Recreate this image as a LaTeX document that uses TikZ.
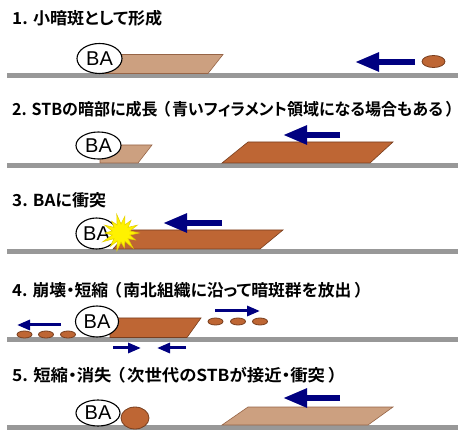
\documentclass[tikz,border=0pt]{standalone}
\usepackage{fontspec}
\usepackage{graphicx}
\setmainfont{Liberation Sans}
\newfontfamily\cjk{Noto Sans CJK JP}[BoldFont={Noto Sans CJK JP Bold},RawFeature=+palt]
\usetikzlibrary{shapes.geometric,arrows.meta}
\definecolor{lbrown}{RGB}{204,160,128}
\definecolor{lbrownedge}{RGB}{150,100,70}
\definecolor{dbrown}{RGB}{190,102,52}
\definecolor{dbrownedge}{RGB}{120,62,30}
\definecolor{navy}{RGB}{0,0,128}
\definecolor{groundgray}{RGB}{152,152,152}
\definecolor{staredge}{RGB}{230,210,0}
\newcommand{\lp}{\hspace{.28em}（\hspace{.12em}}
\newcommand{\rp}{\hspace{.2em}）}
\tikzset{
  ttl/.style={anchor=west, inner sep=0pt, font=\cjk\bfseries\fontsize{16.5}{16.5}\selectfont},
  ba/.style={ellipse, draw=black, line width=1.1pt, fill=white, minimum width=45pt, minimum height=30pt, inner sep=0pt, font=\fontsize{20}{20}\selectfont},
  ground/.style={draw=groundgray, line width=5pt},
  lpar/.style={fill=lbrown, draw=lbrownedge, line width=0.6pt},
  dpar/.style={fill=dbrown, draw=dbrownedge, line width=0.6pt},
  bigarrow/.style={draw=navy, line width=5.5pt, -{Triangle[length=24pt,width=18pt]}},
  smallarrow/.style={draw=navy, line width=3pt, -{Triangle[length=13pt,width=10pt]}},
  blob/.style={ellipse, fill=dbrown, draw=dbrownedge, line width=0.8pt, inner sep=0pt},
  starst/.style={fill=yellow, draw=staredge, line width=0.6pt},
}
\begin{document}
\begin{tikzpicture}[x=1pt,y=-1pt]
\useasboundingbox (0,0) rectangle (458,430);

% ---------- Panel 1 ----------
\node[ttl] (t1) at (12,18.5) {\resizebox{150pt}{\height}{1. 小暗斑として形成}};
\coordinate (g1a) at (7,76); \coordinate (g1b) at (458,76);
\draw[ground] (g1a) -- (g1b);
\draw[lpar] (100,73.5) -- (208,73.5) -- (223,54.5) -- (100,54.5) -- cycle;
\node[ba] (ba1) at (99.5,58.5) {BA};
\coordinate (a1s) at (415,62); \coordinate (a1e) at (355,62);
\draw[bigarrow] (a1s) -- (a1e);
\node[blob, minimum width=23pt, minimum height=12pt] (b1) at (433.5,61.5) {};

% ---------- Panel 2 ----------
\node[ttl] (t2) at (12,109) {\resizebox{442pt}{\height}{2. STBの暗部に成長\lp 青いフィラメント領域になる場合もある\rp}};
\coordinate (g2a) at (7,165.5); \coordinate (g2b) at (458,165.5);
\draw[ground] (g2a) -- (g2b);
\draw[lpar] (100,163) -- (138,163) -- (152,145) -- (100,145) -- cycle;
\node[ba, minimum height=27pt] (ba2) at (98.5,145.5) {BA};
\draw[dpar] (222,163) -- (370,163) -- (393,142) -- (248,142) -- cycle;
\coordinate (a2s) at (340,135); \coordinate (a2e) at (283,135);
\draw[bigarrow] (a2s) -- (a2e);

% ---------- Panel 3 ----------
\node[ttl] (t3) at (12,200) {\resizebox{94pt}{\height}{3. BAに衝突}};
\coordinate (g3a) at (7,251.5); \coordinate (g3b) at (458,251.5);
\draw[ground] (g3a) -- (g3b);
\draw[dpar] (113,249) -- (260,249) -- (283,230) -- (130,230) -- cycle;
\node[ba, minimum width=41pt, minimum height=31pt] (ba3) at (96.5,233.5) {BA};
\coordinate (st) at (121,233);
\draw[starst] ([shift={(st)}]0:18)
  \foreach \a/\r in {12.9/9, 25.7/16, 38.6/9, 51.4/19, 64.3/9, 77.1/15, 90/9,
    102.9/18, 115.7/9, 128.6/17, 141.4/9, 154.3/20, 167.1/9, 180/16, 192.9/9,
    205.7/18, 218.6/9, 231.4/15, 244.3/9, 257.1/19, 270/9, 282.9/17, 295.7/9,
    308.6/16, 321.4/9, 334.3/18, 347.1/9} { -- ([shift={(st)}]\a:\r) } -- cycle;
\coordinate (a3s) at (222,223); \coordinate (a3e) at (163,223);
\draw[bigarrow] (a3s) -- (a3e);

% ---------- Panel 4 ----------
\node[ttl] (t4) at (12,290) {\resizebox{351pt}{\height}{4. 崩壊・短縮\lp 南北組織に沿って暗斑群を放出\rp}};
\coordinate (g4a) at (7,340); \coordinate (g4b) at (458,340);
\draw[ground] (g4a) -- (g4b);
\draw[dpar] (110,337.5) -- (187,337.5) -- (201,318) -- (110,318) -- cycle;
\node[ba, minimum width=43pt, minimum height=31pt] (ba4) at (97,321.5) {BA};
\node[blob, minimum width=15pt, minimum height=7pt] (l1) at (24.5,334.5) {};
\node[blob, minimum width=15pt, minimum height=7pt] (l2) at (46,334.5) {};
\node[blob, minimum width=15pt, minimum height=7pt] (l3) at (68,334.5) {};
\node[blob, minimum width=15pt, minimum height=7pt] (r1) at (215.5,321.5) {};
\node[blob, minimum width=15pt, minimum height=7pt] (r2) at (238,321.5) {};
\node[blob, minimum width=15pt, minimum height=7pt] (r3) at (260,321.5) {};
\coordinate (a4as) at (61,325); \coordinate (a4ae) at (17,325);
\draw[smallarrow] (a4as) -- (a4ae);
\coordinate (a4bs) at (215,311); \coordinate (a4be) at (260,311);
\draw[smallarrow] (a4bs) -- (a4be);
\coordinate (a4cs) at (113,348); \coordinate (a4ce) at (141,348);
\draw[smallarrow] (a4cs) -- (a4ce);
\coordinate (a4ds) at (186,348); \coordinate (a4de) at (157,348);
\draw[smallarrow] (a4ds) -- (a4de);

% ---------- Panel 5 ----------
\node[ttl] (t5) at (12,375) {\resizebox{325pt}{\height}{5. 短縮・消失\lp 次世代のSTBが接近・衝突\rp}};
\coordinate (g5a) at (7,427.5); \coordinate (g5b) at (458,427.5);
\draw[ground] (g5a) -- (g5b);
\node[ba, minimum width=44pt, minimum height=26pt] (ba5) at (98,413) {BA};
\node[blob, minimum width=28pt, minimum height=22pt] (b5) at (135,418) {};
\draw[lpar] (222,425) -- (368,425) -- (393,407) -- (248,407) -- cycle;
\coordinate (a5s) at (340,398); \coordinate (a5e) at (283,398);
\draw[bigarrow] (a5s) -- (a5e);
\end{tikzpicture}
\end{document}
